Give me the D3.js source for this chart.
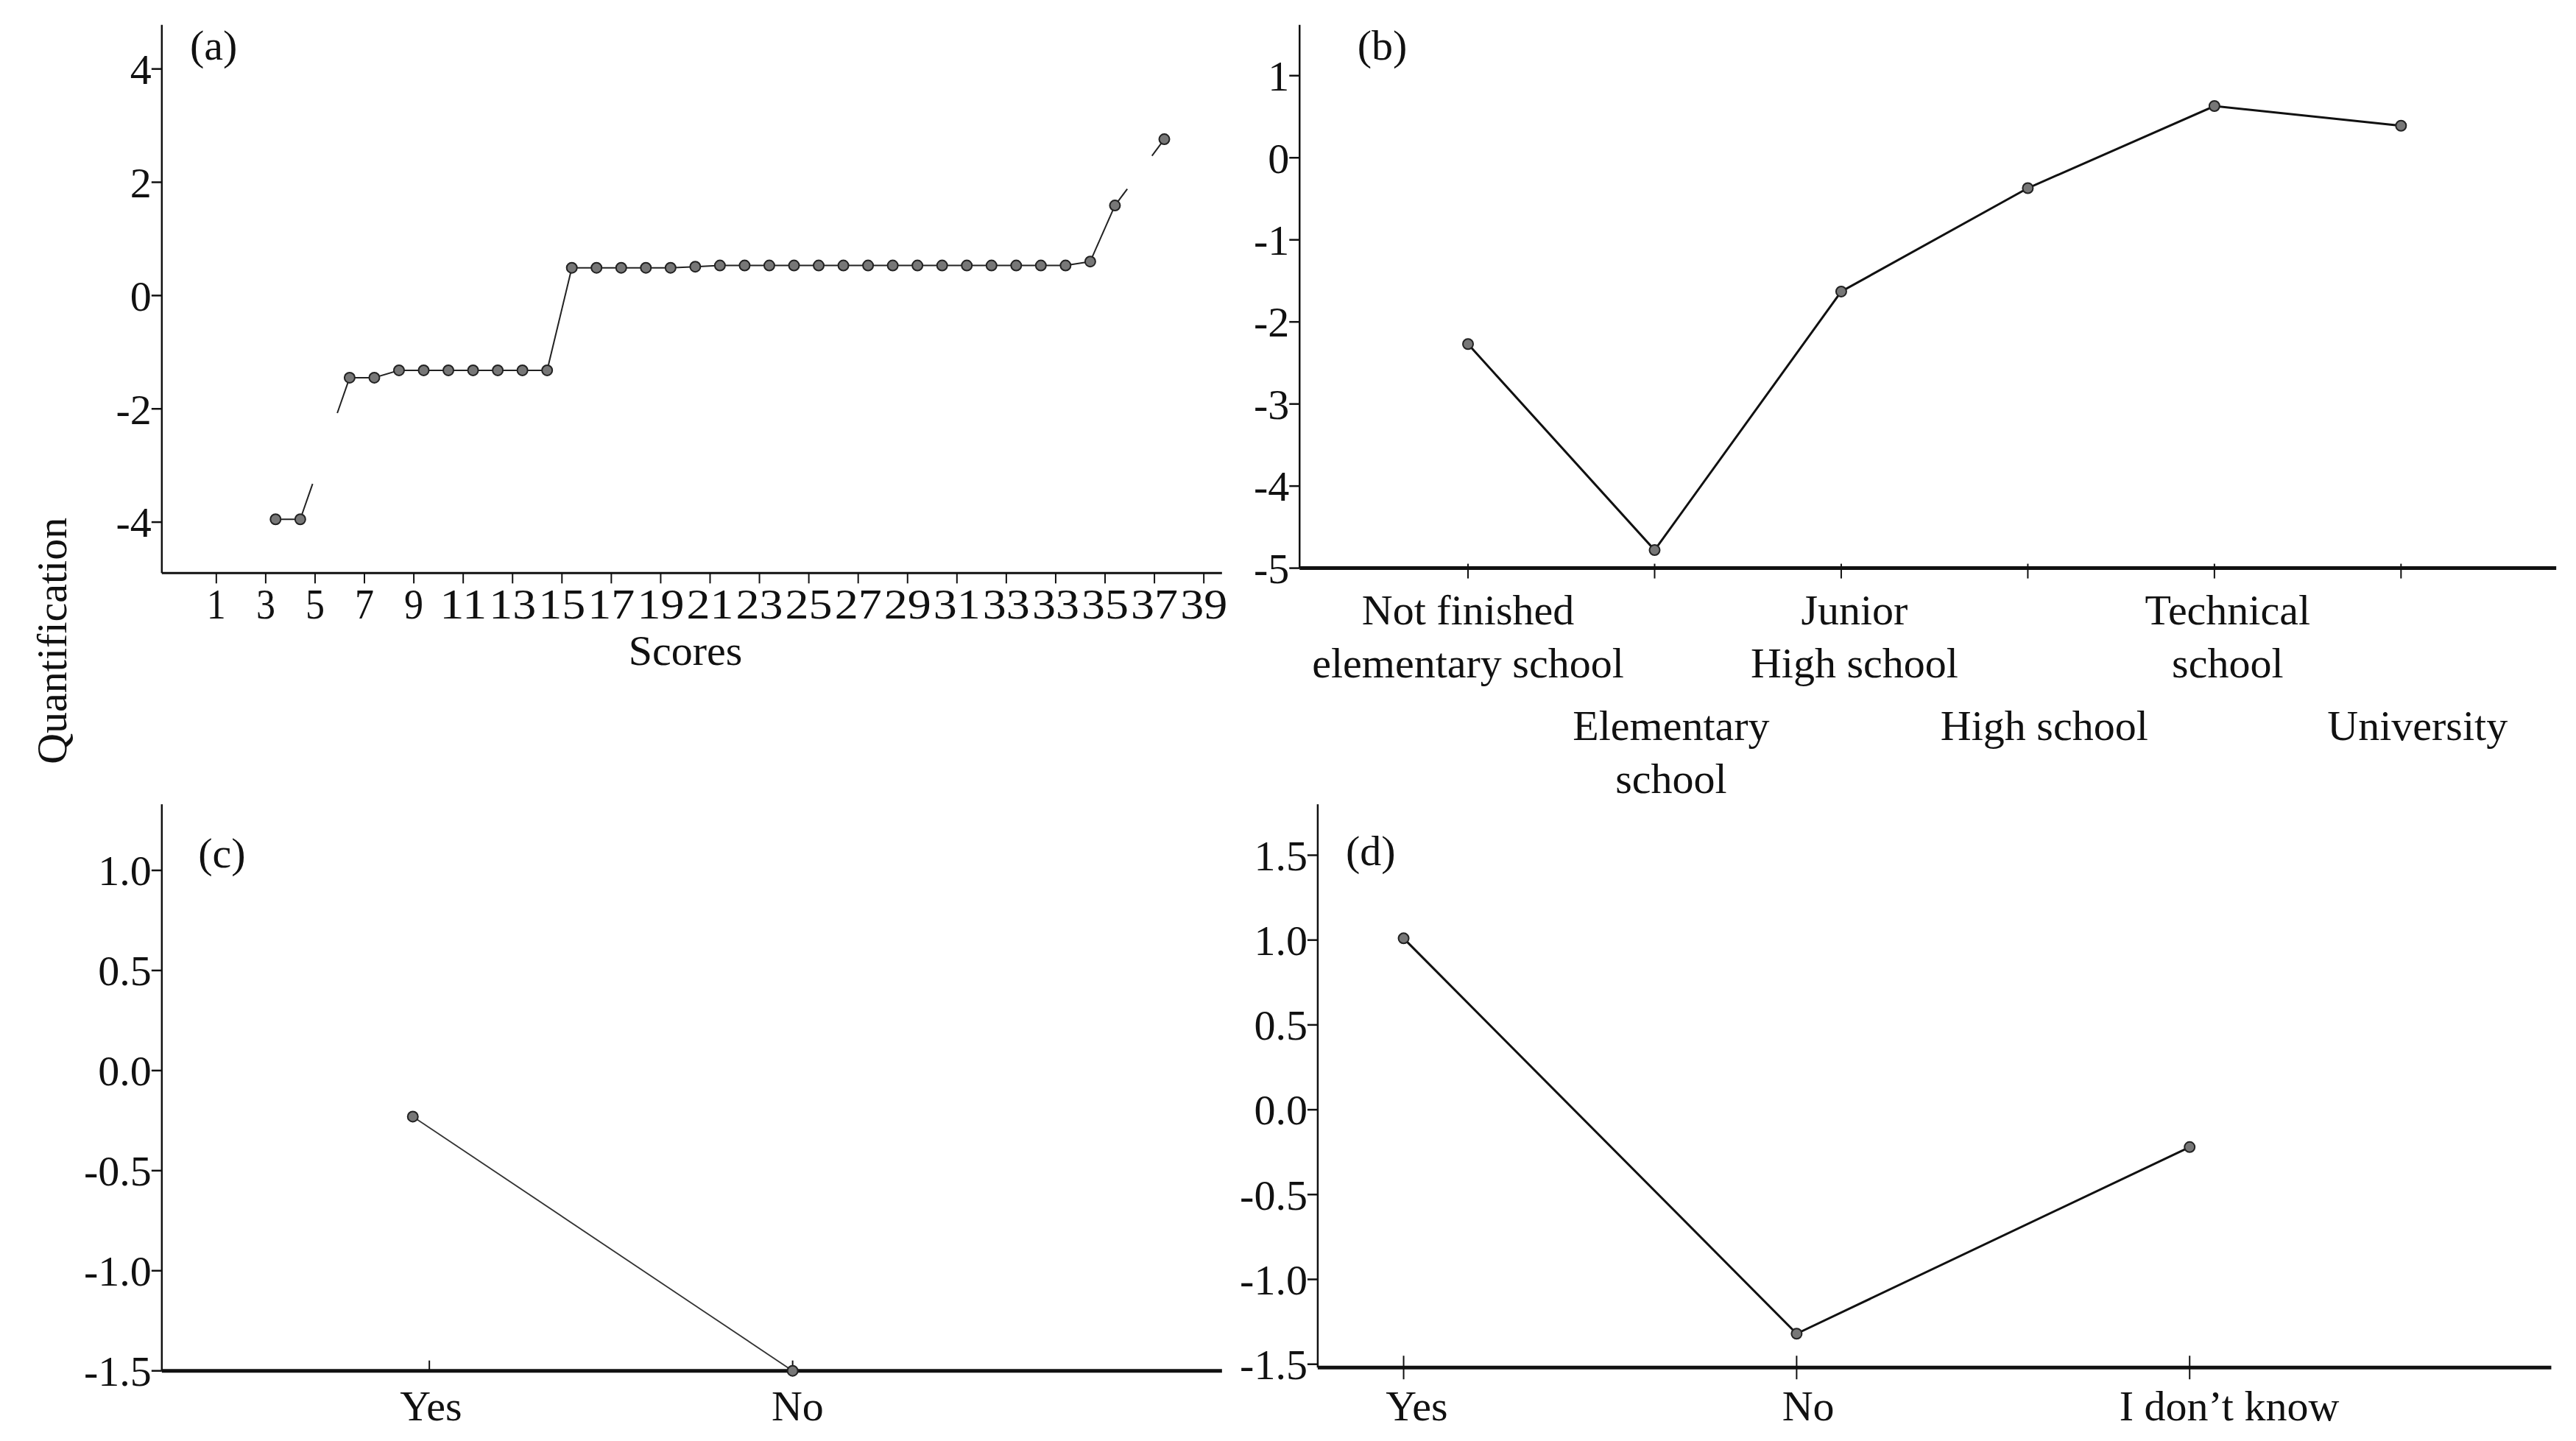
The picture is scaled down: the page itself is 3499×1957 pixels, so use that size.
<!DOCTYPE html>
<html><head><meta charset="utf-8">
<script src="https://cdn.jsdelivr.net/npm/d3@7"></script>
<style>body{margin:0;background:#fff}text{font-family:"Liberation Serif","Times New Roman",serif;fill:#111}</style>
</head><body><svg id="c" width="3499" height="1957"></svg>
<script>
// ---- data ----
const scoresA = [3,4,6,7,8,9,10,11,12,13,14,15,16,17,18,19,20,21,22,23,24,25,26,27,28,29,30,31,32,33,34,35,36,37,39];
const valuesA = [-3.95,-3.95,-1.45,-1.45,-1.32,-1.32,-1.32,-1.32,-1.32,-1.32,-1.32,0.49,0.49,0.49,0.49,0.49,0.51,0.53,0.53,0.53,0.53,0.53,0.53,0.53,0.53,0.53,0.53,0.53,0.53,0.53,0.53,0.53,0.6,1.59,2.76];
const ticksA = [1,3,5,7,9,11,13,15,17,19,21,23,25,27,29,31,33,35,37,39,41];
const tickLabelsA = ["1","3","5","7","9","11","13","15","17","19","21","23","25","27","29","31","33","33","35","37","39"];
const yTicksA = [4,2,0,-2,-4];

const catsB = ["Not finished|elementary school","Elementary|school","Junior|High school","High school","Technical|school","University"];
const valuesB = [-2.27,-4.78,-1.63,-0.37,0.63,0.39];
const yTicksB = [1,0,-1,-2,-3,-4,-5];

const catsC = ["Yes","No"];
const valuesC = [-0.23,-1.5];
const yTicksC = [1.0,0.5,0.0,-0.5,-1.0,-1.5];

const catsD = ["Yes","No","I don\u2019t know"];
const valuesD = [1.01,-1.32,-0.22];
const yTicksD = [1.5,1.0,0.5,0.0,-0.5,-1.0,-1.5];

// ---- drawing ----
const K = 2.243, FS = 58;
const svg = d3.select("#c");

function axes(g, x0, x1, y0, y1, y, ticks, fmt, bold) {
  g.append("line").attr("x1",x0).attr("x2",x0).attr("y1",y0).attr("y2",y1).attr("stroke","#111").attr("stroke-width",2.5);
  g.append("line").attr("x1",x0).attr("x2",x1).attr("y1",y1).attr("y2",y1).attr("stroke","#111").attr("stroke-width",bold?5:3);
  ticks.forEach(t=>{
    g.append("line").attr("x1",x0-14).attr("x2",x0).attr("y1",y(t)).attr("y2",y(t)).attr("stroke","#111").attr("stroke-width",2.5);
    g.append("text").attr("x",x0-14).attr("y",y(t)).attr("dy","0.35em").attr("text-anchor","end").attr("font-size",FS).text(fmt(t));
  });
}
function dots(g, pts){
  g.selectAll(null).data(pts).enter().append("circle").attr("cx",d=>d[0]).attr("cy",d=>d[1]).attr("r",7)
   .attr("fill","#777").attr("stroke","#222").attr("stroke-width",2);
}
const fmtNeg = f => t => f(t).replace("\u2212","-");

// Panel (a)
{
  const g = svg.append("g");
  const x0=98*K, x1=740*K, y0=15*K, y1=347*K;
  const x = d3.scaleLinear().domain([1,41]).range([131*K, 131*K+40*14.95*K]);
  const y = d3.scaleLinear().domain([-4.9,4.78]).range([y1,y0]);
  axes(g,x0,x1,y0,y1,y,yTicksA,fmtNeg(d3.format("d")));
  ticksA.forEach((t,i)=>{
    g.append("line").attr("x1",x(t)).attr("x2",x(t)).attr("y1",y1).attr("y2",y1+14).attr("stroke","#111").attr("stroke-width",2);
    const lab = tickLabelsA[i];
    g.append("text").attr("x",x(t)).attr("y",y1+62).attr("text-anchor","middle").attr("font-size",FS)
      .attr("textLength", lab.length>1 ? 64 : 26).attr("lengthAdjust","spacingAndGlyphs").text(lab);
  });
  const pts = scoresA.map((s,i)=>[x(s+0.4),y(valuesA[i]),s]);
  for(let i=1;i<pts.length;i++){
    const a=pts[i-1], b=pts[i], gap=b[2]-a[2];
    const f = gap>1 ? 0.5/gap : 0.5;
    const seg=(p,q,t)=>g.append("line").attr("x1",p[0]).attr("y1",p[1]).attr("x2",p[0]+(q[0]-p[0])*t).attr("y2",p[1]+(q[1]-p[1])*t).attr("stroke","#222").attr("stroke-width",2);
    if(gap>1){ seg(a,b,f); seg(b,a,f); } else seg(a,b,1);
  }
  dots(g,pts);
  g.append("text").attr("x",115*K).attr("y",36*K).attr("font-size",FS).text("(a)");
  g.append("text").attr("x",(x(20))).attr("y",y1+125).attr("text-anchor","middle").attr("font-size",FS).text("Scores");
}
// Panel (b)
{
  const g = svg.append("g");
  const x0=787*K, x1=1548*K, y0=15*K, y1=344*K;
  const x = d3.scalePoint().domain(catsB).range([889*K,1454*K]);
  const y = d3.scaleLinear().domain([-5,1.62]).range([y1,y0]);
  axes(g,x0,x1,y0,y1,y,yTicksB,fmtNeg(d3.format("d")),true);
  catsB.forEach((c,i)=>{
    g.append("line").attr("x1",x(c)).attr("x2",x(c)).attr("y1",y1-6).attr("y2",y1+14).attr("stroke","#111").attr("stroke-width",2);
    const lines=c.split("|"), base = i%2 ? 448*K : 378*K, off = i%2 ? 10*K : 8*K;
    lines.forEach((l,j)=>g.append("text").attr("x",x(c)+(i==0?0:off)).attr("y",base+j*32*K).attr("text-anchor","middle").attr("font-size",FS).text(l));
  });
  const pts = catsB.map((c,i)=>[x(c),y(valuesB[i])]);
  g.append("path").attr("d",d3.line()(pts)).attr("fill","none").attr("stroke","#111").attr("stroke-width",3);
  dots(g,pts);
  g.append("text").attr("x",822*K).attr("y",36*K).attr("font-size",FS).text("(b)");
}
// Panel (c)
{
  const g = svg.append("g");
  const x0=98*K, x1=740*K, y0=487*K, y1=830*K;
  const x = d3.scalePoint().domain(catsC).range([250*K,480*K]);
  const y = d3.scaleLinear().domain([-1.5,1.33]).range([y1,y0]);
  axes(g,x0,x1,y0,y1,y,yTicksC,fmtNeg(d3.format(".1f")),true);
  catsC.forEach(c=>{
    g.append("line").attr("x1",x(c)+(c=="Yes"?10*K:0)).attr("x2",x(c)+(c=="Yes"?10*K:0)).attr("y1",y1-14).attr("y2",y1).attr("stroke","#111").attr("stroke-width",2);
    g.append("text").attr("x",x(c)+(c=="Yes"?11*K:3*K)).attr("y",y1+30*K).attr("text-anchor","middle").attr("font-size",FS).text(c);
  });
  const pts = catsC.map((c,i)=>[x(c),y(valuesC[i])]);
  g.append("path").attr("d",d3.line()(pts)).attr("fill","none").attr("stroke","#333").attr("stroke-width",1.8);
  dots(g,pts);
  g.append("text").attr("x",120*K).attr("y",525*K).attr("font-size",FS).text("(c)");
}
// Panel (d)
{
  const g = svg.append("g");
  const x0=798*K, x1=1545*K, y0=487*K, y1=828*K;
  const x = d3.scalePoint().domain(catsD).range([850*K,1326*K]);
  const y = d3.scaleLinear().domain([-1.5,1.8]).range([y1-2*K,y0]);
  axes(g,x0,x1,y0,y1,y,yTicksD,fmtNeg(d3.format(".1f")),true);
  catsD.forEach(c=>{
    g.append("line").attr("x1",x(c)).attr("x2",x(c)).attr("y1",y1-16).attr("y2",y1+16).attr("stroke","#111").attr("stroke-width",2);
    g.append("text").attr("x",x(c)+(c=="Yes"?8*K:(c=="No"?7*K:24*K))).attr("y",y1+32*K).attr("text-anchor","middle").attr("font-size",FS).text(c);
  });
  const pts = catsD.map((c,i)=>[x(c),y(valuesD[i])]);
  g.append("path").attr("d",d3.line()(pts)).attr("fill","none").attr("stroke","#111").attr("stroke-width",3);
  dots(g,pts);
  g.append("text").attr("x",815*K).attr("y",524*K).attr("font-size",FS).text("(d)");
}
svg.append("text").attr("transform",`translate(${40*K},${388*K}) rotate(-90)`).attr("text-anchor","middle").attr("font-size",FS).text("Quantification");
</script></body></html>
